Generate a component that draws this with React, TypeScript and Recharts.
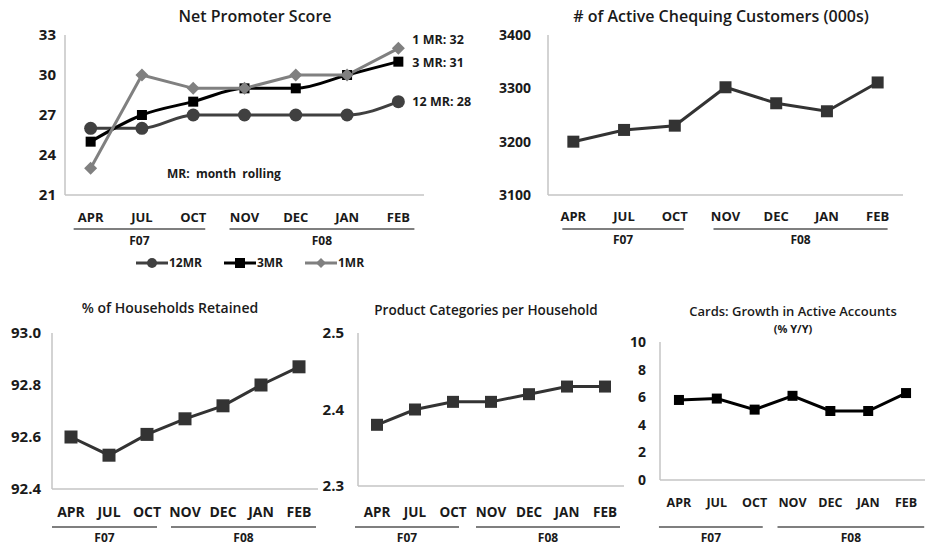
import { LineChart, Line, XAxis, YAxis, Legend, LabelList } from 'recharts';

const months = ['APR', 'JUL', 'OCT', 'NOV', 'DEC', 'JAN', 'FEB'];
const fiscalGroups = [
  { label: 'F07', from: 0, to: 2 },
  { label: 'F08', from: 3, to: 6 },
];

const npsTwelve = [26, 26, 27, 27, 27, 27, 28];
const npsThree = [25, 27, 28, 29, 29, 30, 31];
const npsOne = [23, 30, 29, 29, 30, 30, 32];
const npsTicks = [21, 24, 27, 30, 33];

const chequing = [3200, 3222, 3230, 3302, 3272, 3257, 3311];
const chequingTicks = [3100, 3200, 3300, 3400];

const retained = [92.6, 92.53, 92.61, 92.67, 92.72, 92.8, 92.87];
const retainedTicks = [92.4, 92.6, 92.8, 93.0];

const productCats = [2.38, 2.4, 2.41, 2.41, 2.42, 2.43, 2.43];
const productTicks = [2.3, 2.4, 2.5];

const cardsGrowth = [5.8, 5.9, 5.1, 6.1, 5.0, 5.0, 6.3];
const cardsTicks = [0, 2, 4, 6, 8, 10];

const npsData = months.map((m, i) => ({ month: m, r12: npsTwelve[i], r3: npsThree[i], r1: npsOne[i] }));
const single = (vals: number[]) => months.map((m, i) => ({ month: m, v: vals[i] }));

const FONT = "'Open Sans', sans-serif";
const AXIS = '#c4c4c4';

type TickCfg = { step: number; labelY: number; lineY: number; groupY: number; font: number; pads: number[][] };

function MonthTick(props: any) {
  const { x, y, payload, index, cfg } = props;
  const c: TickCfg = cfg;
  const gi = fiscalGroups.findIndex((f) => f.from === index);
  let extra = null;
  if (gi >= 0) {
    const g = fiscalGroups[gi];
    const x1 = x - c.pads[gi][0];
    const x2 = x + (g.to - g.from) * c.step + c.pads[gi][1];
    extra = (
      <g>
        <line x1={x1} x2={x2} y1={y + c.lineY} y2={y + c.lineY} stroke="#555" strokeWidth={1.5} />
        <text x={(x1 + x2) / 2} y={y + c.groupY} textAnchor="middle" dominantBaseline="central" fontSize={12} fontWeight={700} fill="#1a1a1a">
          {g.label}
        </text>
      </g>
    );
  }
  return (
    <g>
      <text x={x} y={y + c.labelY} textAnchor="middle" dominantBaseline="central" fontSize={c.font} fontWeight={700} fill="#1a1a1a">
        {payload.value}
      </text>
      {extra}
    </g>
  );
}

const squareDot = (size: number, fill: string) => (p: any) => (
  <rect key={`s${p.index}`} x={p.cx - size / 2} y={p.cy - size / 2} width={size} height={size} fill={fill} />
);
const circleDot = (r: number, fill: string) => (p: any) => <circle key={`c${p.index}`} cx={p.cx} cy={p.cy} r={r} fill={fill} />;
const diamondDot = (r: number, fill: string) => (p: any) => (
  <path key={`d${p.index}`} d={`M${p.cx},${p.cy - r}L${p.cx + r},${p.cy}L${p.cx},${p.cy + r}L${p.cx - r},${p.cy}Z`} fill={fill} />
);

const npsSeries = [
  { key: 'r12', name: '12MR', endName: '12 MR', color: '#404040', dot: circleDot(6.5, '#404040'), dy: 0, curve: 'monotone' },
  { key: 'r3', name: '3MR', endName: '3 MR', color: '#000000', dot: squareDot(10, '#000000'), dy: 1, curve: 'monotone' },
  { key: 'r1', name: '1MR', endName: '1 MR', color: '#808080', dot: diamondDot(6.5, '#808080'), dy: -9, curve: 'linear' },
];

function LegendIcon({ kind, color }: { kind: string; color: string }) {
  return (
    <svg width={32} height={12} style={{ display: 'block' }}>
      <line x1={0} x2={32} y1={6} y2={6} stroke={color} strokeWidth={3} />
      {kind === 'r12' && <circle cx={16} cy={6} r={5} fill={color} />}
      {kind === 'r3' && <rect x={11} y={1} width={10} height={10} fill={color} />}
      {kind === 'r1' && <path d="M16,1L21,6L16,11L11,6Z" fill={color} />}
    </svg>
  );
}

function NpsLegend() {
  return (
    <div style={{ display: 'flex', gap: 22, justifyContent: 'center', fontFamily: FONT, fontSize: 12, fontWeight: 700, color: '#1a1a1a' }}>
      {npsSeries.map((s) => (
        <div key={s.key} style={{ display: 'flex', alignItems: 'center', gap: 1 }}>
          <LegendIcon kind={s.key} color={s.color} />
          <span>{s.name}</span>
        </div>
      ))}
    </div>
  );
}

function Title({ text, cx, cy, size }: { text: string; cx: number; cy: number; size: number }) {
  return (
    <div style={{ position: 'absolute', left: cx - 250, top: cy - size * 0.7, width: 500, textAlign: 'center', fontSize: size, fontWeight: 600, color: '#1a1a1a', whiteSpace: 'nowrap' }}>
      {text}
    </div>
  );
}

type SimpleProps = {
  left: number; top: number; width: number; height: number;
  margin: { top: number; right: number; bottom: number; left: number };
  yWidth: number; yFont: number; yGap: number; xHeight: number;
  data: any[]; domain: [number, number]; ticks: number[]; fmt?: (v: number) => string;
  color: string; dotSize: number; tick: TickCfg;
};

function SimpleChart(p: SimpleProps) {
  const half = p.tick.step / 2;
  return (
    <div style={{ position: 'absolute', left: p.left, top: p.top }}>
      <LineChart width={p.width} height={p.height} data={p.data} margin={p.margin}>
        <XAxis dataKey="month" axisLine={{ stroke: AXIS, strokeWidth: 1.5 }} tickLine={false} tickSize={0} tickMargin={0} height={p.xHeight} interval={0}
          padding={{ left: half, right: half }} tick={(t: any) => <MonthTick {...t} cfg={p.tick} />} />
        <YAxis domain={p.domain} ticks={p.ticks} width={p.yWidth} axisLine={{ stroke: AXIS, strokeWidth: 1.5 }} tickLine={false} tickSize={0} tickMargin={p.yGap} tickFormatter={p.fmt} tick={{ fontSize: p.yFont, fontWeight: 700, fill: '#1a1a1a' }} allowDataOverflow />
        <Line type="linear" dataKey="v" stroke={p.color} strokeWidth={3} dot={squareDot(p.dotSize, p.color)} activeDot={false} isAnimationActive={false} />
      </LineChart>
    </div>
  );
}

const npsTick: TickCfg = { step: 51.3, labelY: 22, lineY: 34, groupY: 45, font: 13, pads: [[17, 12], [15, 16]] };

export default function App() {
  return (
    <div style={{ position: 'absolute', left: 0, top: 0, width: 925, height: 550, background: '#fff', fontFamily: FONT, overflow: 'hidden' }}>
      {/* Net Promoter Score */}
      <Title text="Net Promoter Score" cx={255} cy={16} size={16} />
      <div style={{ position: 'absolute', left: 0, top: 0 }}>
        <LineChart width={480} height={280} data={npsData} margin={{ top: 35, right: 56, bottom: 0, left: 25 }}>
          <XAxis dataKey="month" axisLine={{ stroke: AXIS, strokeWidth: 1.5 }} tickLine={false} tickSize={0} tickMargin={0} height={85} interval={0}
            padding={{ left: npsTick.step / 2, right: npsTick.step / 2 }} tick={(t: any) => <MonthTick {...t} cfg={npsTick} />} />
          <YAxis domain={[21, 33]} ticks={npsTicks} width={40} axisLine={{ stroke: AXIS, strokeWidth: 1.5 }} tickLine={false} tickSize={0} tickMargin={9}
            tick={{ fontSize: 15, fontWeight: 700, fill: '#1a1a1a' }} />
          <Legend verticalAlign="middle" align="center" layout="horizontal" wrapperStyle={{ top: 254, left: 120, width: 260 }} content={() => <NpsLegend />} />
          {npsSeries.map((s) => (
            <Line key={s.key} type={s.curve as any} dataKey={s.key} name={s.name} stroke={s.color} strokeWidth={3} dot={s.dot} activeDot={false} isAnimationActive={false}>
              <LabelList dataKey={s.key} content={(l: any) =>
                l.index === months.length - 1 ? (
                  <text x={l.x + 14} y={l.y + s.dy} dominantBaseline="central" fontSize={12.5} fontWeight={700} fill="#1a1a1a">{`${s.endName}: ${l.value}`}</text>
                ) : null} />
            </Line>
          ))}
        </LineChart>
      </div>
      <div style={{ position: 'absolute', left: 167, top: 165, fontSize: 12, fontWeight: 700, color: '#1a1a1a', whiteSpace: 'pre' }}>MR:  month  rolling</div>

      {/* Active Chequing Customers */}
      <Title text="# of Active Chequing Customers (000s)" cx={721} cy={16} size={16} />
      <SimpleChart left={470} top={0} width={455} height={260} margin={{ top: 35, right: 22, bottom: 0, left: 28 }}
        yWidth={50} yFont={14} yGap={17} xHeight={65} data={single(chequing)} domain={[3100, 3400]} ticks={chequingTicks}
        color="#333333" dotSize={12} tick={{ step: 50.7, labelY: 21, lineY: 34, groupY: 44, font: 13, pads: [[11, 9], [12, 10]] }} />

      {/* % of Households Retained */}
      <Title text="% of Households Retained" cx={170} cy={308} size={14} />
      <SimpleChart left={0} top={290} width={330} height={260} margin={{ top: 43, right: 12, bottom: 0, left: 0 }}
        yWidth={52} yFont={15} yGap={11} xHeight={61} data={single(retained)} domain={[92.4, 93.0]} ticks={retainedTicks} fmt={(v) => v.toFixed(1)}
        color="#333333" dotSize={13} tick={{ step: 38, labelY: 22, lineY: 38, groupY: 48, font: 14, pads: [[19, 10], [14, 17]] }} />

      {/* Product Categories per Household */}
      <Title text="Product Categories per Household" cx={486} cy={310} size={13.5} />
      <SimpleChart left={300} top={290} width={330} height={260} margin={{ top: 43, right: 6, bottom: 0, left: 8 }}
        yWidth={50} yFont={15} yGap={14} xHeight={64} data={single(productCats)} domain={[2.3, 2.5]} ticks={productTicks} fmt={(v) => v.toFixed(1)}
        color="#333333" dotSize={12} tick={{ step: 38, labelY: 26, lineY: 41, groupY: 51, font: 13.5, pads: [[22, 6], [15, 15]] }} />

      {/* Cards growth */}
      <Title text="Cards: Growth in Active Accounts" cx={793} cy={311} size={13} />
      <div style={{ position: 'absolute', left: 743, top: 321, width: 100, textAlign: 'center', fontSize: 11, fontWeight: 700, color: '#1a1a1a' }}>(% Y/Y)</div>
      <SimpleChart left={610} top={290} width={315} height={260} margin={{ top: 52, right: 0, bottom: 0, left: 0 }}
        yWidth={50} yFont={14} yGap={14} xHeight={70} data={single(cardsGrowth)} domain={[0, 10]} ticks={cardsTicks}
        color="#000000" dotSize={10} tick={{ step: 37.9, labelY: 22, lineY: 47, groupY: 57, font: 12.5, pads: [[20, 8], [15, 18]] }} />
    </div>
  );
}
